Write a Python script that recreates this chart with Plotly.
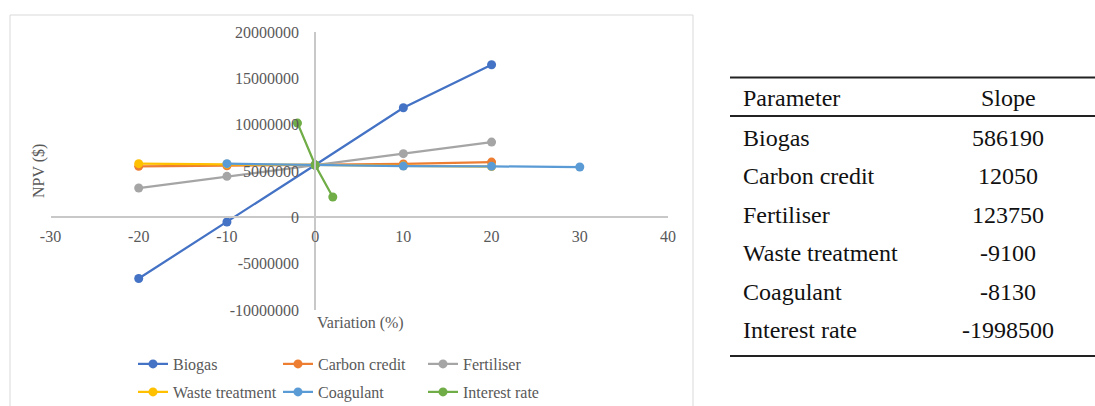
import plotly.graph_objects as go

# ---- data -------------------------------------------------------------
biogas_x = [-20, -10, 0, 10, 20]
biogas_y = [-6600000, -500000, 5650000, 11830000, 16470000]

carbon_x = [-20, -10, 0, 10, 20]
carbon_y = [5500000, 5560000, 5650000, 5760000, 5960000]

fert_x = [-20, -10, 0, 10, 20]
fert_y = [3160000, 4420000, 5650000, 6870000, 8120000]

waste_x = [-20, -10, 0, 10, 20]
waste_y = [5790000, 5740000, 5650000, 5560000, 5480000]

coag_x = [-10, 0, 10, 20, 30]
coag_y = [5790000, 5650000, 5530000, 5500000, 5430000]

rate_x = [-2, 0, 2]
rate_y = [10170000, 5650000, 2190000]

x_ticks = [-30, -20, -10, 0, 10, 20, 30, 40]
x_tick_text = ["-30", "-20", "-10", "0", "10", "20", "30", "40"]
y_ticks = [-10000000, -5000000, 0, 5000000, 10000000, 15000000, 20000000]
y_tick_text = ["-10000000", "-5000000", "0", "5000000", "10000000", "15000000", "20000000"]

table_params = ["Biogas", "Carbon credit", "Fertiliser", "Waste treatment",
                "Coagulant", "Interest rate"]
table_slopes = ["586190", "12050", "123750", "-9100", "-8130", "-1998500"]

# ---- layout helpers (pixel -> paper) ----------------------------------
W, H = 1095, 406


def px(x):
    return x / W


def py(y):
    return 1 - y / H


SERIF = "Liberation Serif, Times New Roman, serif"
GREY_TXT = "#595959"

series = [
    ("Biogas", biogas_x, biogas_y, "#4472C4", "legend"),
    ("Carbon credit", carbon_x, carbon_y, "#ED7D31", "legend"),
    ("Fertiliser", fert_x, fert_y, "#A5A5A5", "legend"),
    ("Waste treatment", waste_x, waste_y, "#FFC000", "legend2"),
    ("Coagulant", coag_x, coag_y, "#5B9BD5", "legend2"),
    ("Interest rate", rate_x, rate_y, "#70AD47", "legend2"),
]

fig = go.Figure()
for name, xs, ys, color, leg in series:
    fig.add_trace(go.Scatter(
        x=xs, y=ys, name=name, mode="lines+markers",
        line=dict(color=color, width=2.25),
        marker=dict(color=color, size=9),
        legend=leg,
    ))

x0_pos = py(217)   # height of the y = 0 line
y0_pos = px(315)   # position of the x = 0 line

legend_common = dict(
    orientation="h", xanchor="left", yanchor="middle",
    entrywidth=100, entrywidthmode="pixels", itemwidth=30,
    bgcolor="rgba(0,0,0,0)",
    font=dict(family=SERIF, size=16, color=GREY_TXT),
)

fig.update_layout(
    width=W, height=H,
    margin=dict(l=0, r=0, t=0, b=0, autoexpand=False),
    paper_bgcolor="white", plot_bgcolor="rgba(0,0,0,0)",
    font=dict(family=SERIF, size=16, color=GREY_TXT),
    xaxis=dict(
        domain=[px(50.5), px(668)], range=[-30, 40],
        tickvals=x_ticks, ticktext=x_tick_text, anchor="free", position=x0_pos,
        showline=True, linecolor="#c8c8c8", linewidth=1.5,
        showgrid=False, zeroline=False, ticks="",
        ticklabelstandoff=5,
        tickfont=dict(family=SERIF, size=16, color=GREY_TXT),
    ),
    yaxis=dict(
        domain=[py(310), py(32)], range=[-10000000, 20000000],
        tickvals=y_ticks, ticktext=y_tick_text,
        anchor="free", position=y0_pos,
        showline=True, linecolor="#c8c8c8", linewidth=1.5,
        showgrid=False, zeroline=False, ticks="",
        ticklabelstandoff=12,
        tickfont=dict(family=SERIF, size=16, color=GREY_TXT),
    ),
    legend=dict(x=px(133), y=py(364), **legend_common),
    legend2=dict(x=px(133), y=py(392), **legend_common),
    showlegend=True,
)

shapes = [
    # chart frame
    dict(type="rect", xref="paper", yref="paper",
         x0=px(10), x1=px(693), y0=py(415), y1=py(15),
         line=dict(color="#d9d9d9", width=1), fillcolor="rgba(0,0,0,0)", layer="below"),
    # table rules
    dict(type="line", xref="paper", yref="paper",
         x0=px(730), x1=px(1095), y0=py(77.5), y1=py(77.5),
         line=dict(color="#222222", width=2)),
    dict(type="line", xref="paper", yref="paper",
         x0=px(730), x1=px(1095), y0=py(116), y1=py(116),
         line=dict(color="#222222", width=2)),
    dict(type="line", xref="paper", yref="paper",
         x0=px(730), x1=px(1095), y0=py(356), y1=py(356),
         line=dict(color="#222222", width=2)),
]

annotations = [
    dict(text="Variation (%)", xref="paper", yref="paper",
         x=px(315), y=py(323), xanchor="left", yanchor="middle",
         showarrow=False, font=dict(family=SERIF, size=16, color=GREY_TXT)),
    dict(text="NPV ($)", xref="paper", yref="paper",
         x=px(39), y=py(171), xanchor="center", yanchor="middle", textangle=-90,
         showarrow=False, font=dict(family=SERIF, size=16, color=GREY_TXT)),
]

TFONT = dict(family=SERIF, size=24, color="#111111")
annotations.append(dict(text="Parameter", xref="paper", yref="paper",
                        x=px(741), y=py(98), xanchor="left", yanchor="middle",
                        showarrow=False, font=TFONT))
annotations.append(dict(text="Slope", xref="paper", yref="paper",
                        x=px(1008), y=py(98), xanchor="center", yanchor="middle",
                        showarrow=False, font=TFONT))
row_y0, row_step = 137.5, 38.5
for i, (p, s) in enumerate(zip(table_params, table_slopes)):
    yy = py(row_y0 + i * row_step)
    annotations.append(dict(text=p, xref="paper", yref="paper",
                            x=px(741), y=yy, xanchor="left", yanchor="middle",
                            showarrow=False, font=TFONT))
    annotations.append(dict(text=s, xref="paper", yref="paper",
                            x=px(1008), y=yy, xanchor="center", yanchor="middle",
                            showarrow=False, font=TFONT))

fig.update_layout(shapes=shapes, annotations=annotations)

fig.write_html("out.html")
